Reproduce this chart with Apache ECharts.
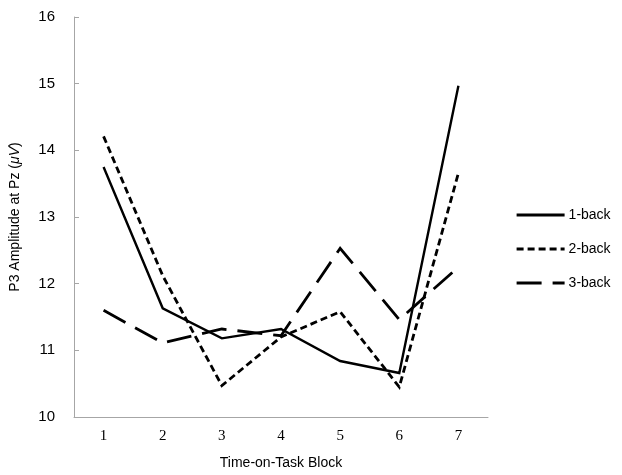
<!DOCTYPE html>
<html>
<head>
<meta charset="utf-8">
<script src="https://cdn.jsdelivr.net/npm/echarts@6/dist/echarts.min.js"></script>
<style>
  html, body { margin: 0; padding: 0; background: #fff; }
  #chart { width: 622px; height: 475px; }
</style>
</head>
<body>
<div id="chart"></div>
<script>
// Time-on-task blocks and mean P3 amplitude per n-back load
const blocks = ['1', '2', '3', '4', '5', '6', '7'];
const oneBack = [13.75, 11.63, 11.18, 11.32, 10.84, 10.66, 14.97];
const twoBack = [14.21, 12.12, 10.47, 11.2, 11.58, 10.45, 13.66];
const threeBack = [11.6, 11.11, 11.32, 11.22, 12.53, 11.46, 12.25];
const yTicks = { min: 10, max: 16, step: 1 };

const axisGray = '#a6a6a6';
const sans = 'Liberation Sans, Arial, sans-serif';
const serif = 'Liberation Serif, Times New Roman, serif';

function lineSeries(name, data, width, dash) {
  return {
    name: name,
    type: 'line',
    data: data,
    symbol: 'none',
    smooth: false,
    lineStyle: { color: '#000', width: width, type: dash, cap: 'butt', join: 'miter' },
    itemStyle: { color: '#000' }
  };
}

const chart = echarts.init(document.getElementById('chart'), null, { renderer: 'canvas' });
chart.setOption({
  animation: false,
  backgroundColor: '#fff',
  grid: { left: 71, right: 134, top: 17, bottom: 58, containLabel: false },
  legend: {
    orient: 'vertical',
    left: 510,
    top: 203,
    itemWidth: 48,
    itemHeight: 14,
    itemGap: 20,
    itemStyle: { opacity: 0 },
    lineStyle: { width: 3.2 },
    textStyle: { fontFamily: sans, fontSize: 14, color: '#000', padding: [0, 0, 0, -1] },
    data: ['1-back', '2-back', '3-back']
  },
  xAxis: {
    type: 'category',
    data: blocks,
    boundaryGap: true,
    name: 'Time-on-Task Block',
    nameLocation: 'middle',
    nameGap: 39,
    nameTextStyle: { fontFamily: sans, fontSize: 14, color: '#000' },
    axisLine: { lineStyle: { color: axisGray, width: 1 } },
    axisTick: { inside: true, length: 5, lineStyle: { color: axisGray } },
    axisLabel: { fontFamily: serif, fontSize: 15, color: '#000', margin: 12 },
    splitLine: { show: false }
  },
  yAxis: {
    type: 'value',
    min: yTicks.min,
    max: yTicks.max,
    interval: yTicks.step,
    name: '{n|P3 Amplitude at Pz (}{i|μV}{n|)}',
    nameLocation: 'middle',
    nameGap: 52,
    nameRotate: 90,
    nameTextStyle: {
      rich: {
        n: { fontFamily: sans, fontSize: 14, color: '#000' },
        i: { fontFamily: sans, fontSize: 14, color: '#000', fontStyle: 'italic' }
      }
    },
    axisLine: { show: true, lineStyle: { color: axisGray, width: 1 } },
    axisTick: { show: true, inside: true, length: 5, lineStyle: { color: axisGray } },
    axisLabel: { fontFamily: sans, fontSize: 15, color: '#000', margin: 19 },
    splitLine: { show: false }
  },
  series: [
    lineSeries('1-back', oneBack, 2.4, 'solid'),
    lineSeries('2-back', twoBack, 2.8, [7, 4]),
    lineSeries('3-back', threeBack, 2.8, [25, 11])
  ]
});
</script>
</body>
</html>
